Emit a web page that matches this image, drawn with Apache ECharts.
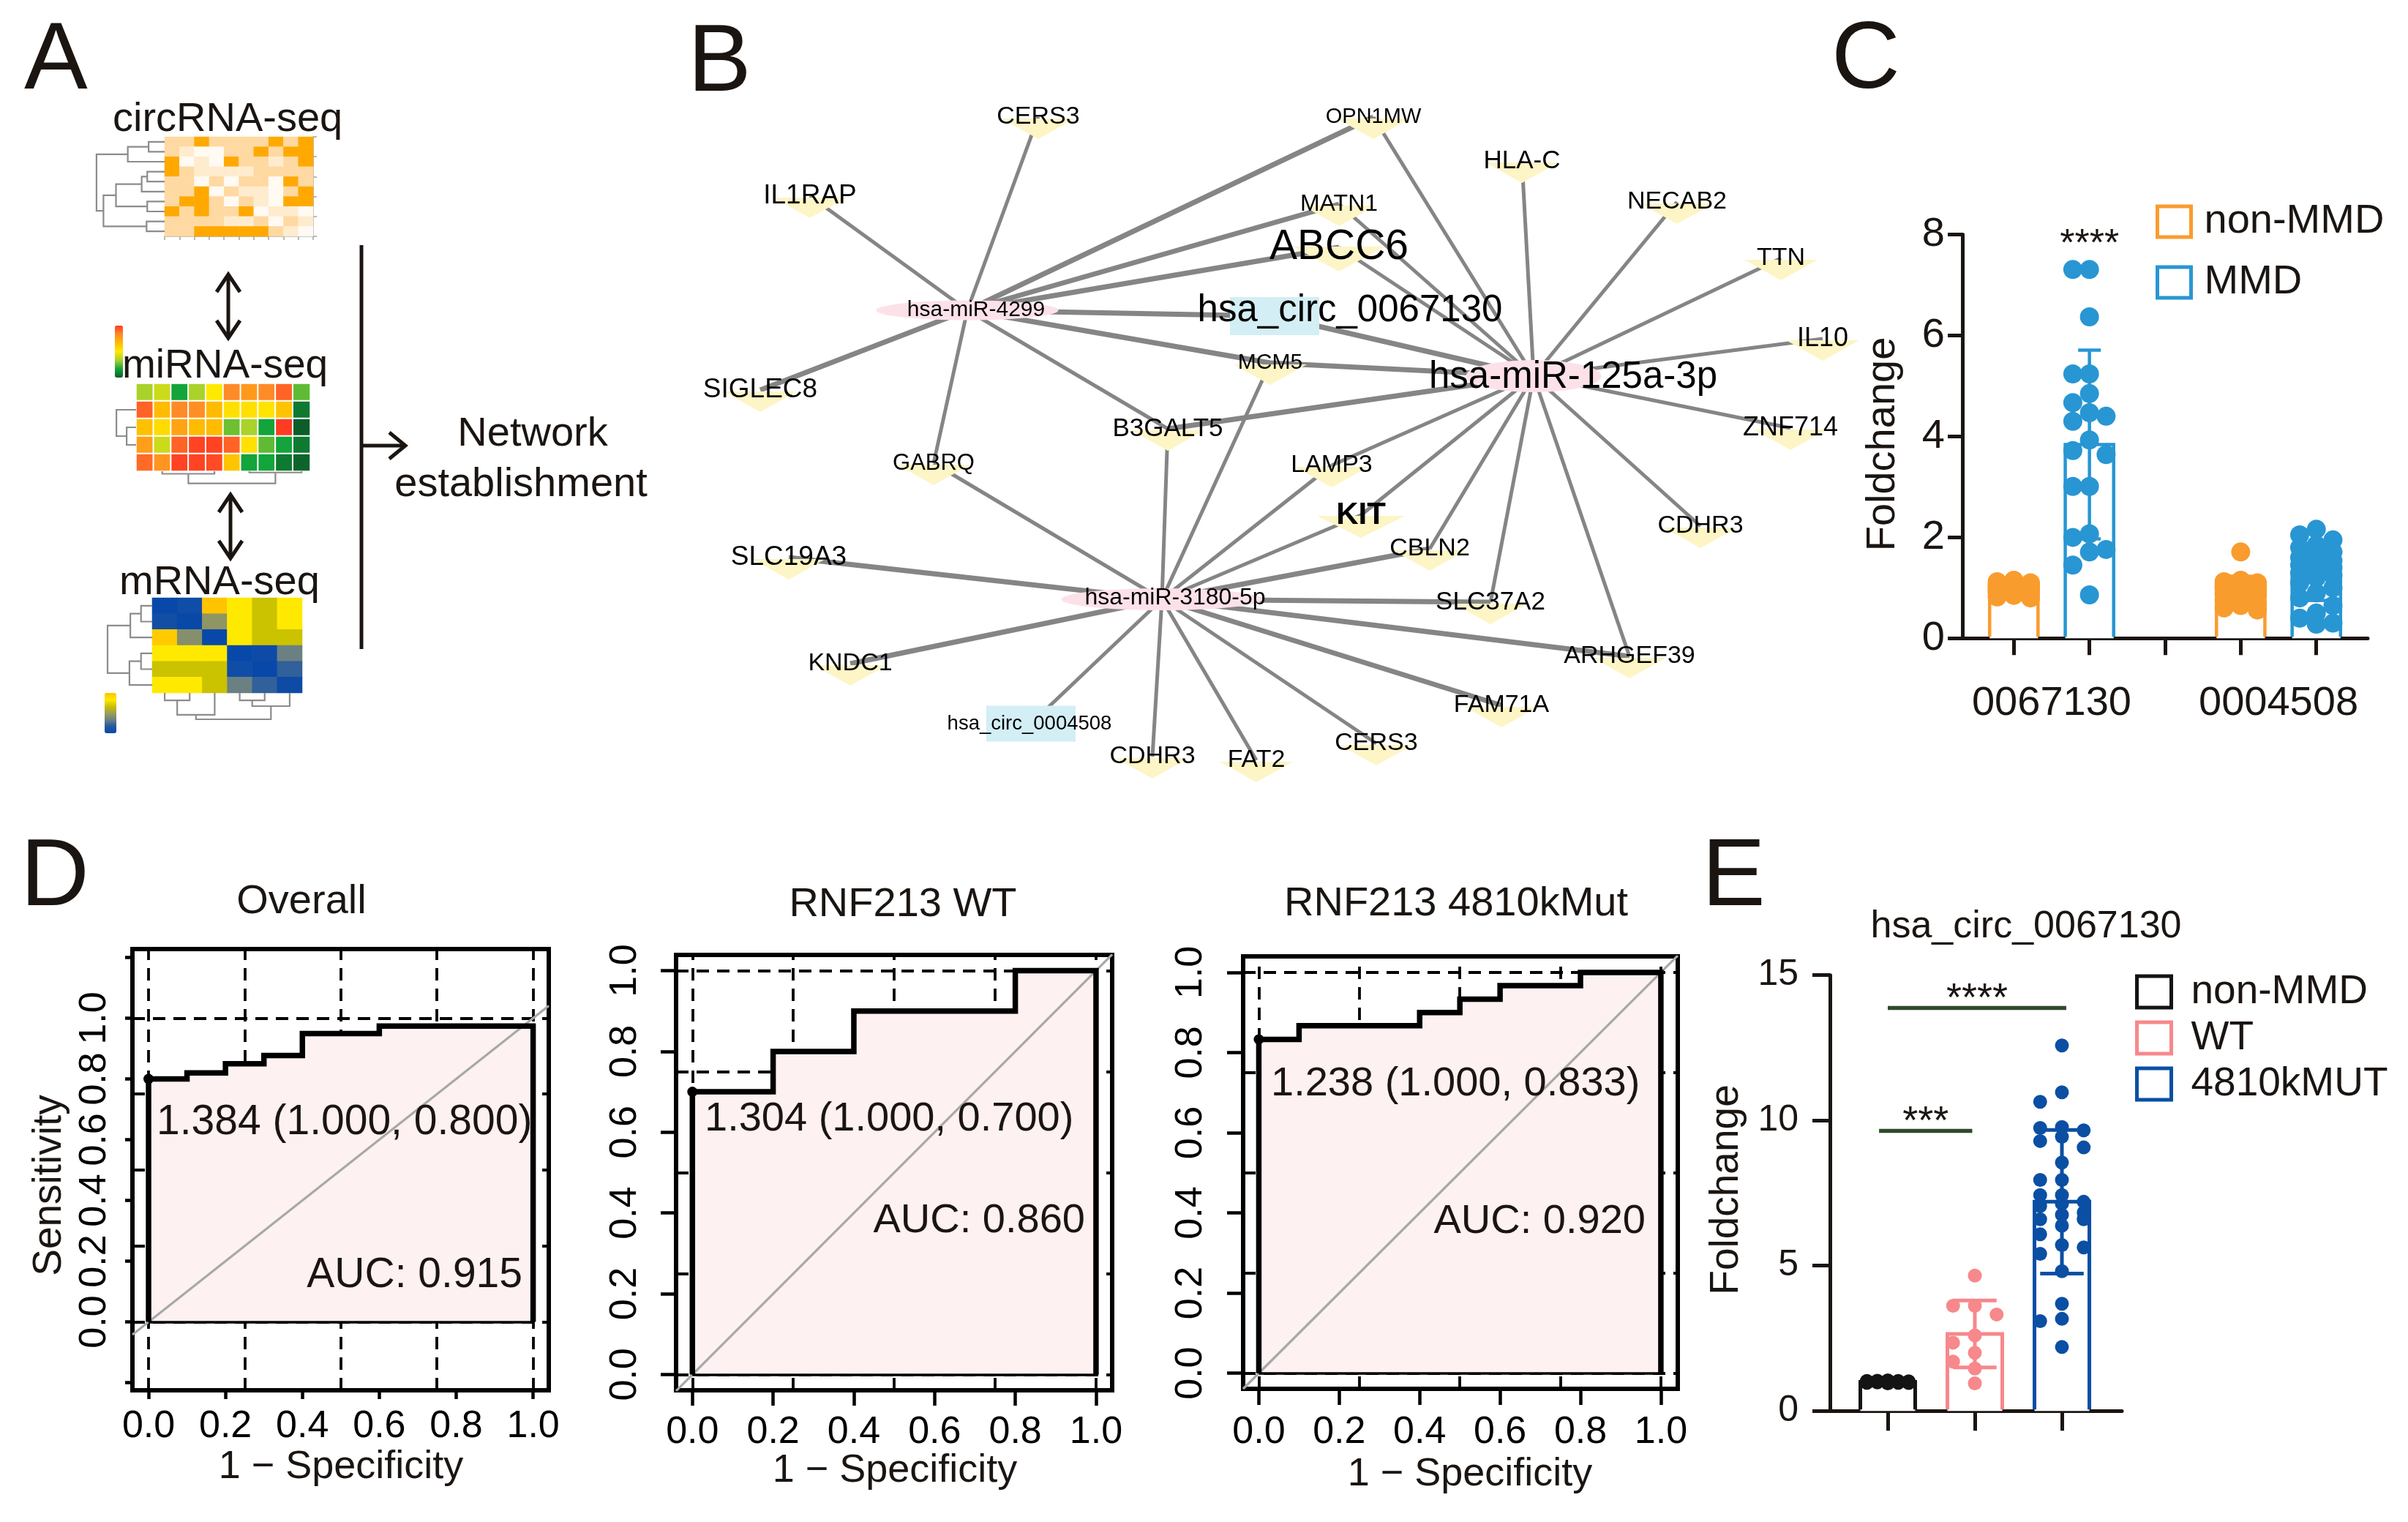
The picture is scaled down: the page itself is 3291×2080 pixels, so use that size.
<!DOCTYPE html>
<html>
<head>
<meta charset="utf-8">
<script src="https://cdn.jsdelivr.net/npm/echarts@6.0.0/dist/echarts.min.js"></script>
<style>
html,body{margin:0;padding:0;background:#ffffff;}
#chart{width:3291px;height:2080px;}
</style>
</head>
<body>
<div id="chart"></div>
<script>
const FONT = '"Liberation Sans", Arial, Helvetica, sans-serif';
const INK = '#1b1512';

/* ================= DATA ================= */
/* Panel A: heatmaps (rows top->bottom, cols left->right) */
const circRnaMatrix = [
  [2,2,4,2,2,2,2,4,2,4],
  [2,1,0,0,2,2,4,2,4,4],
  [4,0,1,0,4,2,2,1,2,4],
  [4,2,1,1,1,1,2,2,2,2],
  [2,2,0,2,0,2,2,0,4,2],
  [2,2,4,0,2,1,1,0,2,4],
  [2,4,4,2,0,2,1,0,4,4],
  [4,2,4,2,2,4,0,1,1,0],
  [2,2,2,2,1,1,2,0,2,1],
  [2,2,4,4,4,4,4,2,1,0]
];
/* hclust-style merges: negative = leaf (1-based), positive = earlier merge (1-based), then height */
const circRnaRowTree = [[-1,-2,0.23],[1,-3,0.53],[-4,-5,0.25],[3,-6,0.33],[-7,-8,0.25],[4,5,0.70],[-9,-10,0.26],[6,7,0.88],[2,8,0.98]];
const mirnaMatrix = [
  [-1.0,-0.6,-2.0,-1.0, 0.0, 2.0, 1.7, 2.0, 2.5,-1.5],
  [ 2.5, 1.0, 2.0, 1.9, 1.0, 0.2, 0.2, 0.1, 0.8,-2.6],
  [ 0.9, 0.3, 1.5, 1.0, 1.0,-1.4,-1.0,-2.0, 3.0,-3.0],
  [ 1.6,-0.6, 2.5, 2.9, 2.9, 2.5, 0.2,-1.5,-2.0,-2.6],
  [ 2.4, 1.8, 2.9, 2.9, 2.8, 0.8,-2.0,-2.0,-2.6,-2.9]
];
const mirnaRowTree = [[-3,-4,0.46],[-2,1,0.96]];
const mirnaColTree = [[-2,-5,0.16],[-7,-10,0.08],[1,2,0.76]];
const mrnaMatrix = [
  [-3.0,-2.7, 3.0, 2.0, 1.0, 2.0],
  [-2.6,-3.0,-0.3, 2.0, 1.0, 2.0],
  [ 2.8,-0.5,-3.0, 2.0, 1.0, 1.0],
  [ 2.0, 2.0, 2.0,-3.0,-2.8,-1.0],
  [ 1.0, 1.0, 1.0,-2.7,-3.0,-1.8],
  [ 2.0, 2.0, 1.0,-1.0,-1.8,-2.8]
];
const mrnaRowTree = [[-1,-2,0.25],[1,-3,0.49],[-4,-5,0.25],[3,-6,0.51],[2,4,1.0]];
const mrnaColTree = [[-1,-2,0.28],[1,-3,0.83],[-4,-5,0.28],[3,-6,0.50],[2,4,1.0]];

/* Panel B: network */
const netNodes = ['CERS3','OPN1MW','HLA-C','IL1RAP','MATN1','NECAB2','ABCC6','TTN','IL10','MCM5',
  'SIGLEC8','ZNF714','B3GALT5','GABRQ','LAMP3','KIT','CDHR3','CBLN2','SLC19A3','SLC37A2',
  'ARHGEF39','KNDC1','FAM71A','CDHR3','FAT2','CERS3',
  'hsa-miR-4299','hsa-miR-125a-3p','hsa-miR-3180-5p','hsa_circ_0067130','hsa_circ_0004508'];
const netNodeKind = ['mRNA','mRNA','mRNA','mRNA','mRNA','mRNA','mRNA','mRNA','mRNA','mRNA',
  'mRNA','mRNA','mRNA','mRNA','mRNA','mRNA','mRNA','mRNA','mRNA','mRNA',
  'mRNA','mRNA','mRNA','mRNA','mRNA','mRNA','miRNA','miRNA','miRNA','circRNA','circRNA'];
const netEdges = [
  [26,0],[26,3],[26,1],[26,4],[26,6],[26,29],[26,9],[26,10],[26,13],[26,12],
  [27,1],[27,2],[27,5],[27,7],[27,8],[27,11],[27,16],[27,20],[27,19],[27,17],[27,15],[27,14],[27,4],[27,6],[27,29],[27,9],[27,12],
  [28,13],[28,12],[28,9],[28,14],[28,15],[28,17],[28,19],[28,20],[28,22],[28,25],[28,24],[28,23],[28,30],[28,21],[28,18]
];
const netEdgeScore = [1,1,2,2,2,2,2,2,1,1, 1,1,1,1,1,1,1,1,1,1,1,1,1,1,2,2,2, 1,1,1,1,1,2,2,2,2,1,1,1,1,2,2];

/* Panel C */
const cCategories = ['0067130','0004508'];
const cGroups = ['non-MMD','MMD'];
const cNonMean = [1.00, 0.95];
const cNonSD   = [0.10, 0.28];
const cMmdMean = [3.84, 1.30];
const cMmdSD   = [1.87, 0.55];
const cNon0067130 = [1.15,1.12,1.10,1.08,1.06,1.05,1.03,1.02,1.00,1.00,0.99,0.98,0.96,0.95,0.93,0.92,0.90,0.88,0.85,0.82,0.80];
const cMmd0067130 = [7.31,7.31,6.37,5.24,5.24,4.85,4.67,4.47,4.40,4.30,3.93,3.72,3.64,3.01,3.01,2.07,2.00,1.76,1.71,1.45,0.86];
const cNon0004508 = [1.71,1.15,1.12,1.10,1.08,1.05,1.02,1.00,0.98,0.95,0.92,0.88,0.85,0.80,0.75,0.70,0.65,0.60,0.56];
const cMmd0004508 = [2.16,2.05,1.95,1.85,1.80,1.71,1.65,1.60,1.54,1.50,1.45,1.40,1.35,1.30,1.25,1.20,1.10,1.00,0.90,0.80,0.65,0.50,0.40,0.30,0.28];
const cSigText = ['****'];
const cSigY = [7.94];

/* Panel D: ROC */
const rocTitles = ['Overall','RNF213 WT','RNF213 4810kMut'];
const rocOverallFpr = [0,0.1,0.1,0.2,0.2,0.3,0.3,0.4,0.4,0.6,0.6,1.0];
const rocOverallTpr = [0.80,0.80,0.82,0.82,0.85,0.85,0.877,0.877,0.949,0.949,0.974,0.974];
const rocWtFpr = [0,0.2,0.2,0.4,0.4,0.8,0.8,1.0];
const rocWtTpr = [0.7,0.7,0.8,0.8,0.9,0.9,1.0,1.0];
const rocMutFpr = [0,0.1,0.1,0.4,0.4,0.5,0.5,0.6,0.6,0.8,0.8,1.0];
const rocMutTpr = [0.833,0.833,0.867,0.867,0.9,0.9,0.933,0.933,0.967,0.967,1.0,1.0];
const rocThreshold = [1.384, 1.304, 1.238];
const rocThrSpec = [1.000, 1.000, 1.000];
const rocThrSens = [0.800, 0.700, 0.833];
const rocAuc = [0.915, 0.860, 0.920];
const rocTickValues = [0,0.2,0.4,0.6,0.8,1.0];
const rocGridValues = [0,0.25,0.5,0.75,1.0];

/* Panel E */
const eGroups = ['non-MMD','WT','4810kMUT'];
const eMean = [1.00, 2.65, 7.20];
const eSD = [0.03, 1.15, 2.47];
const eNonMMD = [1.05,1.04,1.03,1.03,1.02,1.01,1.00,1.00,1.00,0.99,0.99,0.98,0.97,0.97,0.96,0.95];
const eWT = [4.66,3.62,3.62,3.32,2.60,2.35,2.00,1.70,1.46,0.95];
const eMut = [12.58,10.97,10.64,9.66,9.77,9.74,9.44,9.29,9.07,8.55,7.95,7.95,7.43,7.43,7.13,7.20,7.05,
  6.75,6.60,6.60,6.83,6.38,6.08,5.71,5.63,5.41,4.81,3.69,3.17,3.09,2.20];
const eSigFrom = [-0.10, 0.00];
const eSigTo = [0.97, 2.05];
const eSigY = [9.64, 13.87];
const eSigText = ['***','****'];

/* ================= LAYOUT / STYLE ================= */
const netLayout = {
  x: [1419,1877,2080,1107,1830,2292,1830,2434,2491,1736,1039,2447,1596,1276,1820,1860,2324,1954,1078,2037,2227,1162,2052,1575,1717,1881,1322,2096,1588,1742,1409],
  y: [160,160,220,268,279,276,338,353,463,496,533,585,586,633,636,704,719,750,762,823,897,907,964,1034,1039,1016,424,514,819,432,989]
};
const netLabelSize = {1:29,2:35,3:37,4:32,6:57,8:36,9:30,10:37,11:36,12:35,13:31,15:42,18:37,19:35,26:30,27:51,28:32,29:51,30:27.5};
const netLabelShift = {26:[12,0],27:[54,2],28:[18,-2],29:[103,-7],30:[-2,0]};
const netSymbolSize = {6:[125,34],15:[120,30],26:[249,27],27:[185,44],28:[275,30],29:[122,52],30:[122,49]};

const grids = [], xAxes = [], yAxes = [], series = [], visualMaps = [], graphics = [], legends = [];
function addGrid(g, x, y) {
  grids.push(Object.assign({outerBoundsMode:'none', containLabel:false}, g));
  const i = grids.length - 1;
  xAxes.push(Object.assign({gridIndex:i}, x));
  yAxes.push(Object.assign({gridIndex:i}, y));
  return i;
}
const hidden = o => Object.assign({type:'value', show:false, splitLine:{show:false}}, o);

/* ---------- Panel A ---------- */
function heatPanel(box, matrix, vm, axes, border) {
  const nr = matrix.length, nc = matrix[0].length;
  const axStyle = {show: axes, lineStyle:{color:'#a3a3a3', width:1.5}};
  const gi = addGrid({left:box.l, top:box.t, width:box.w, height:box.h},
    {type:'category', data:[...Array(nc).keys()].map(String), position:'bottom',
     axisLine:Object.assign({onZero:false}, axStyle), axisTick:{show:axes, length:5, lineStyle:{color:'#a3a3a3', width:1.5}},
     axisLabel:{show:false}, splitLine:{show:false}},
    {type:'category', data:[...Array(nr).keys()].map(String), inverse:true, position:'right',
     axisLine:Object.assign({onZero:false}, axStyle), axisTick:{show:axes, length:5, lineStyle:{color:'#a3a3a3', width:1.5}},
     axisLabel:{show:false}, splitLine:{show:false}});
  const data = [];
  matrix.forEach((row, r) => row.forEach((v, c) => data.push([c, r, v])));
  series.push({type:'heatmap', xAxisIndex:gi, yAxisIndex:gi, data, silent:true,
    itemStyle:{borderColor:'#ffffff', borderWidth:border}, emphasis:{disabled:true}});
  vm.seriesIndex = series.length - 1;
  visualMaps.push(vm);
}
function treeSegments(tree) {
  const pos = [], hh = [];
  const P = r => r < 0 ? -r - 1 : pos[r - 1];
  const H = r => r < 0 ? 0 : hh[r - 1];
  return tree.map(([a, b, h], k) => {
    const pa = P(a), pb = P(b), ha = H(a), hb = H(b);
    pos[k] = (pa + pb) / 2; hh[k] = h;
    return [pa, ha, pb, hb, h];
  });
}
function dendro(box, tree, n, orient) {
  let gi;
  if (orient === 'left') {
    gi = addGrid({left:box.l, top:box.t, width:box.w, height:box.h},
      hidden({min:0, max:1, inverse:true}), hidden({min:-0.5, max:n - 0.5, inverse:true}));
  } else {
    gi = addGrid({left:box.l, top:box.t, width:box.w, height:box.h},
      hidden({min:-0.5, max:n - 0.5}), hidden({min:0, max:1, inverse:true}));
  }
  series.push({type:'custom', xAxisIndex:gi, yAxisIndex:gi, data:treeSegments(tree), silent:true,
    renderItem(params, api) {
      const pa = api.value(0), ha = api.value(1), pb = api.value(2), hb = api.value(3), h = api.value(4);
      const pts = orient === 'left' ? [[ha,pa],[h,pa],[h,pb],[hb,pb]] : [[pa,ha],[pa,h],[pb,h],[pb,hb]];
      return {type:'polyline', shape:{points:pts.map(p => api.coord(p))},
        style:{stroke:'#8c8c8c', lineWidth:2.2, fill:null}};
    }});
}
heatPanel({l:225, t:187, w:203, h:136}, circRnaMatrix,
  {type:'continuous', min:0, max:4, show:false, inRange:{color:['#fffaf2','#ffecce','#ffd9a2','#ffc468','#ffa900']}}, true, 0);
dendro({l:130, t:187, w:95, h:136}, circRnaRowTree, 10, 'left');

heatPanel({l:186, t:524, w:238, h:120}, mirnaMatrix,
  {type:'continuous', min:-3, max:3, show:true, left:157, top:445, itemWidth:11, itemHeight:71, padding:0,
   calculable:false, hoverLink:false, text:null,
   inRange:{color:['#0b5d2a','#13a43b','#a9d22b','#ffe900','#ffbb00','#ff8a28','#ff3b22']}}, false, 2);
dendro({l:158, t:524, w:28, h:120}, mirnaRowTree, 5, 'left');
dendro({l:186, t:644, w:238, h:22}, mirnaColTree, 10, 'bottom');

heatPanel({l:208, t:817, w:205, h:130}, mrnaMatrix,
  {type:'continuous', min:-3, max:3, show:true, left:143, top:947, itemWidth:16, itemHeight:55, padding:0,
   calculable:false, hoverLink:false, text:null,
   inRange:{color:['#0848a8','#2358a0','#6b8083','#9e9e55','#cbc200','#ffe900','#ffc300']}}, false, 0);
dendro({l:147, t:817, w:61, h:130}, mrnaRowTree, 6, 'left');
dendro({l:208, t:947, w:205, h:36}, mrnaColTree, 6, 'bottom');

function txt(text, x, y, size, align, extra) {
  return Object.assign({type:'text', x, y, z:100, silent:true,
    style:{text, fontSize:size, fontFamily:FONT, fill:INK, align:align || 'left', verticalAlign:'middle'}}, extra || {});
}
function vArrow(x, y1, y2) {
  const s = {stroke:INK, lineWidth:5, fill:null};
  return [
    {type:'line', z:100, silent:true, shape:{x1:x, y1:y1 + 2, x2:x, y2:y2 - 2}, style:s},
    {type:'polyline', z:100, silent:true, shape:{points:[[x-16,y1+24],[x,y1],[x+16,y1+24]]}, style:s},
    {type:'polyline', z:100, silent:true, shape:{points:[[x-16,y2-24],[x,y2],[x+16,y2-24]]}, style:s}
  ];
}
graphics.push(txt('A', 33, 85, 130));
graphics.push(txt('circRNA-seq', 154, 164, 56));
graphics.push(txt('miRNA-seq', 167, 501, 55));
graphics.push(txt('mRNA-seq', 163, 797, 56));
graphics.push(...vArrow(312, 375, 462));
graphics.push(...vArrow(315, 676, 763));
graphics.push({type:'line', z:100, silent:true, shape:{x1:494, y1:335, x2:494, y2:887}, style:{stroke:INK, lineWidth:5}});
graphics.push({type:'line', z:100, silent:true, shape:{x1:494, y1:609, x2:552, y2:609}, style:{stroke:INK, lineWidth:5}});
graphics.push({type:'polyline', z:100, silent:true, shape:{points:[[532,591],[554,609],[532,627]]}, style:{stroke:INK, lineWidth:5, fill:null}});
graphics.push(txt('Network', 728, 594, 56, 'center'));
graphics.push(txt('establishment', 712, 663, 56, 'center'));

/* ---------- Panel B ---------- */
graphics.push(txt('B', 940, 88, 130));
const bX0 = 900, bY0 = 60;
const bGi = addGrid({left:bX0, top:bY0, width:1700, height:1040},
  hidden({min:0, max:1700}), hidden({min:0, max:1040, inverse:true}));
const kindStyle = {
  mRNA: {symbol:'path://M0,0 L100,0 L50,30 Z', size:[100,28], color:'#fdf5c6', offset:[0,16]},
  miRNA: {symbol:'circle', size:[200,30], color:'#fde1e9', offset:[0,0]},
  circRNA: {symbol:'rect', size:[122,50], color:'#d3eef5', offset:[0,0]}
};
const netData = netNodes.map((name, i) => {
  const k = kindStyle[netNodeKind[i]];
  const sh = netLabelShift[i] || [0,0];
  return {
    id: 'n' + i, name,
    value: [netLayout.x[i] - bX0, netLayout.y[i] - bY0],
    symbol: k.symbol, symbolSize: netSymbolSize[i] || k.size, symbolOffset: k.offset,
    itemStyle: {color: k.color},
    label: {show:true, position:'inside', color:'#000', fontFamily:FONT,
      fontSize: netLabelSize[i] || 34, fontWeight: i === 15 ? 'bold' : 'normal',
      offset: [sh[0] - k.offset[0], sh[1] - k.offset[1]], formatter: name}
  };
});
const netLinks = netEdges.map(([s, t], i) => ({source:s, target:t,
  lineStyle:{width: netEdgeScore[i] === 2 ? 7 : 5}}));
series.push({type:'graph', coordinateSystem:'cartesian2d', xAxisIndex:bGi, yAxisIndex:bGi,
  layout:'none', data:netData, links:netLinks, edgeSymbol:['none','none'], silent:true, z:3,
  lineStyle:{color:'#858585', width:5, opacity:1, curveness:0}, emphasis:{disabled:true}});

/* ---------- Swarm layout for dots ---------- */
function swarm(values, step, maxOff, win) {
  const order = values.map((v, i) => i).sort((a, b) => values[b] - values[a]);
  const placed = [], offs = new Array(values.length);
  const cand = [0, -1, 1, -0.5, 0.5, -1.5, 1.5, -2, 2];
  for (const i of order) {
    const v = values[i];
    const near = placed.filter(p => Math.abs(p.v - v) < win);
    let best = 0, bestScore = Infinity;
    for (const c of cand) {
      const o = c * step;
      if (Math.abs(o) > maxOff + 1e-9) continue;
      let score = 0;
      near.forEach(p => { const d = Math.abs(p.o - o); if (d < step * 0.95) score += (1 - d / step) * (win - Math.abs(p.v - v)); });
      if (score < bestScore - 1e-9) { bestScore = score; best = o; }
    }
    offs[i] = best; placed.push({v, o:best});
  }
  return values.map((v, i) => offs[i]);
}
function dots(values, center, step, maxOff, win) {
  const o = swarm(values, step, maxOff, win);
  return values.map((v, i) => [center + o[i], v]);
}
function barSeries(name, gi, items, color, halfW, lw) {
  return {type:'custom', name, xAxisIndex:gi, yAxisIndex:gi, data:items, z:2, silent:true,
    renderItem(params, api) {
      const x = api.value(0), m = api.value(1);
      const tl = api.coord([x - halfW, m]), br = api.coord([x + halfW, 0]);
      return {type:'group', children:[
        {type:'rect', shape:{x:tl[0], y:tl[1], width:br[0]-tl[0], height:br[1]-tl[1]}, style:{fill:'#ffffff'}},
        {type:'polyline', shape:{points:[[tl[0],br[1]-2],[tl[0],tl[1]],[br[0],tl[1]],[br[0],br[1]-2]]},
          style:{stroke:color, lineWidth:lw, fill:null, lineJoin:'miter'}}
      ]};
    }};
}
function errSeries(gi, items, color, capHalf, lw) {
  return {type:'custom', xAxisIndex:gi, yAxisIndex:gi, data:items, z:5, silent:true,
    renderItem(params, api) {
      const x = api.value(0), m = api.value(1), s = api.value(2);
      const top = api.coord([x, m + s]), bot = api.coord([x, Math.max(m - s, 0)]);
      const l = api.coord([x - capHalf, m])[0], r = api.coord([x + capHalf, m])[0];
      const st = {stroke:color, lineWidth:lw};
      return {type:'group', children:[
        {type:'line', shape:{x1:top[0], y1:top[1], x2:bot[0], y2:bot[1]}, style:st},
        {type:'line', shape:{x1:l, y1:top[1], x2:r, y2:top[1]}, style:st},
        {type:'line', shape:{x1:l, y1:bot[1], x2:r, y2:bot[1]}, style:st}
      ]};
    }};
}
function sigSeries(gi, items, texts, color, fs, lw) {
  return {type:'custom', xAxisIndex:gi, yAxisIndex:gi, data:items, z:6, silent:true,
    renderItem(params, api) {
      const x1 = api.value(0), x2 = api.value(1), y = api.value(2), ty = api.value(3);
      const a = api.coord([x1, y]), b = api.coord([x2, y]), t = api.coord([(x1 + x2) / 2, ty]);
      const ch = [{type:'text', x:t[0], y:t[1] + fs * 0.2,
        style:{text:texts[params.dataIndex], fontSize:fs, fontFamily:FONT, fill:INK, align:'center', verticalAlign:'middle'}}];
      if (x2 > x1) ch.push({type:'line', shape:{x1:a[0], y1:a[1], x2:b[0], y2:b[1]}, style:{stroke:color, lineWidth:lw}});
      return {type:'group', children:ch};
    }};
}

/* ---------- Panel C ---------- */
graphics.push(txt('C', 2503, 84, 130));
const C_OR = '#f99c2e', C_BL = '#2896d3';
const cGi = addGrid({left:2682, top:320.6, width:554, height:551.7},
  {type:'value', min:-0.68, max:4.68,
   axisLine:{show:true, onZero:false, lineStyle:{color:INK, width:5}}, splitLine:{show:false},
   axisTick:{show:true, customValues:[0,1,2,3,4], length:23, lineStyle:{color:INK, width:5}},
   axisLabel:{customValues:cCategories.map((c, k) => 3 * k + 0.5), formatter:v => cCategories[Math.round((v - 0.5) / 3)],
     fontSize:56, color:INK, margin:61}},
  {type:'value', min:0, max:8, interval:2,
   axisLine:{show:true, onZero:false, lineStyle:{color:INK, width:5}}, splitLine:{show:false},
   axisTick:{show:true, length:20, lineStyle:{color:INK, width:5}},
   axisLabel:{fontSize:56, color:INK, margin:24}});
const cW = 0.32, cStep = 0.22, cWin = 0.38;
series.push(barSeries('non-MMD', cGi, cNonMean.map((m, k) => [3 * k, m]), C_OR, cW, 4.5));
series.push(barSeries('MMD', cGi, cMmdMean.map((m, k) => [3 * k + 1, m]), C_BL, cW, 4.5));
series.push({type:'scatter', name:'non-MMD', xAxisIndex:cGi, yAxisIndex:cGi, symbolSize:26, silent:true, z:4,
  itemStyle:{color:C_OR, opacity:1},
  data:[].concat(dots(cNon0067130, 0, cStep, 0.3, cWin), dots(cNon0004508, 3, cStep, 0.3, cWin))});
series.push({type:'scatter', name:'MMD', xAxisIndex:cGi, yAxisIndex:cGi, symbolSize:26, silent:true, z:4,
  itemStyle:{color:C_BL, opacity:1},
  data:[].concat(dots(cMmd0067130, 1, cStep, 0.3, cWin), dots(cMmd0004508, 4, cStep, 0.3, cWin))});
series.push(errSeries(cGi, cNonMean.map((m, k) => [3 * k, m, cNonSD[k]]), C_OR, 0.15, 4.5));
series.push(errSeries(cGi, cMmdMean.map((m, k) => [3 * k + 1, m, cMmdSD[k]]), C_BL, 0.15, 4.5));
series.push(sigSeries(cGi, cSigY.map(y => [1, 1, y, y]), cSigText, INK, 52, 5));
graphics.push(txt('Foldchange', 2574, 607, 56, 'center', {rotation:Math.PI / 2}));
legends.push({left:2941, top:270, orient:'vertical', selectedMode:false, itemWidth:46, itemHeight:42, itemGap:27,
  icon:'rect', textStyle:{fontSize:56, color:INK, fontFamily:FONT, padding:[0,0,0,13]},
  data:[
    {name:'non-MMD', itemStyle:{color:'#ffffff', borderColor:C_OR, borderWidth:5}},
    {name:'MMD', itemStyle:{color:'#ffffff', borderColor:C_BL, borderWidth:5}}
  ]});

/* ---------- Panel D ---------- */
graphics.push(txt('D', 28, 1201, 130));
const rocPanels = [
  {l:181, t:1297, w:569, h:603, xr:[-0.0419,1.0407], yr:[-0.225,1.2274], yTicks:[-0.2,0,0.2,0.4,0.6,0.8,1.0,1.2],
   tickX:12, tickY:10, mx:24, my:25, fpr:rocOverallFpr, tpr:rocOverallTpr,
   titleX:412, titleY:1233, thrX:214, thrY:1534, aucX:714, aucY:1743, xtX:466, xtY:2005, fs:57},
  {l:924, t:1305, w:596, h:595, xr:[-0.0404,1.040], yr:[-0.039,1.039], yTicks:rocTickValues,
   tickX:21, tickY:21, mx:32, my:43, fpr:rocWtFpr, tpr:rocWtTpr,
   titleX:1234, titleY:1237, thrX:963, thrY:1530, aucX:1483, aucY:1669, xtX:1223, xtY:2010, fs:56},
  {l:1699, t:1307, w:594, h:591, xr:[-0.039,1.042], yr:[-0.039,1.040], yTicks:rocTickValues,
   tickX:22, tickY:22, mx:34, my:45, fpr:rocMutFpr, tpr:rocMutTpr,
   titleX:1990, titleY:1236, thrX:1737, thrY:1482, aucX:2249, aucY:1670, xtX:2009, xtY:2015, fs:56}
];
rocPanels.forEach((p, k) => {
  const gi = addGrid({left:p.l, top:p.t, width:p.w, height:p.h, show:true, borderColor:'#000', borderWidth:6,
      backgroundColor:'rgba(0,0,0,0)'},
    {type:'value', min:p.xr[0], max:p.xr[1], axisLine:{show:false, onZero:false}, splitLine:{show:false},
     axisTick:{show:true, customValues:rocTickValues, length:p.tickX, lineStyle:{color:'#000', width:4.5}},
     axisLabel:{customValues:rocTickValues, formatter:v => v.toFixed(1), fontSize:52, color:'#000', margin:p.mx}},
    {type:'value', min:p.yr[0], max:p.yr[1], axisLine:{show:false, onZero:false}, splitLine:{show:false},
     axisTick:{show:true, customValues:p.yTicks, length:p.tickY, lineStyle:{color:'#000', width:4.5}},
     axisLabel:{customValues:rocTickValues, formatter:v => v.toFixed(1), rotate:90, fontSize:52, color:'#000', margin:p.my}});
  const gl = [];
  rocGridValues.forEach(g => {
    gl.push({coords:[[g, p.yr[0]], [g, p.yr[1]]]});
    gl.push({coords:[[p.xr[0], g], [p.xr[1], g]]});
  });
  series.push({type:'lines', coordinateSystem:'cartesian2d', xAxisIndex:gi, yAxisIndex:gi, data:gl, silent:true, z:1,
    lineStyle:{color:'#000', width:3.8, type:[17,11], opacity:1}});
  const curve = [[0, 0]].concat(p.fpr.map((f, i) => [f, p.tpr[i]]));
  series.push({type:'line', xAxisIndex:gi, yAxisIndex:gi, data:curve, symbol:'none', silent:true, z:2,
    lineStyle:{opacity:0, width:0}, areaStyle:{color:'#fdf1f1', opacity:1, origin:'auto'}});
  series.push({type:'lines', coordinateSystem:'cartesian2d', xAxisIndex:gi, yAxisIndex:gi, silent:true, z:3,
    data:[{coords:[[p.xr[0], p.xr[0]], [p.xr[1], p.xr[1]]]}], lineStyle:{color:'#a8a8a8', width:3.2, opacity:1}});
  series.push({type:'lines', coordinateSystem:'cartesian2d', xAxisIndex:gi, yAxisIndex:gi, silent:true, z:4,
    data:[{coords:[[0, 0], [1, 0]]}], lineStyle:{color:'#000', width:3.5, opacity:1}});
  series.push({type:'line', xAxisIndex:gi, yAxisIndex:gi, data:curve.concat([[1, 0]]), symbol:'none', silent:true, z:5,
    lineStyle:{color:'#000', width:7.5, join:'miter', cap:'butt'}});
  series.push({type:'scatter', xAxisIndex:gi, yAxisIndex:gi, data:[[1 - rocThrSpec[k], rocThrSens[k]]], symbolSize:14,
    silent:true, z:6, itemStyle:{color:'#000', opacity:1}});
  graphics.push(txt(rocTitles[k], p.titleX, p.titleY, 56, 'center'));
  graphics.push(txt(rocThreshold[k].toFixed(3) + ' (' + rocThrSpec[k].toFixed(3) + ', ' + rocThrSens[k].toFixed(3) + ')',
    p.thrX, p.thrY, p.fs, 'left'));
  graphics.push(txt('AUC: ' + rocAuc[k].toFixed(3), p.aucX, p.aucY, p.fs, 'right'));
  graphics.push(txt('1 \u2212 Specificity', p.xtX, p.xtY, 54, 'center'));
});
graphics.push(txt('Sensitivity', 68, 1620, 55, 'center', {rotation:Math.PI / 2}));

/* ---------- Panel E ---------- */
graphics.push(txt('E', 2326, 1201, 130));
const E_BK = '#141414', E_PK = '#f7888b', E_BL = '#0a4fa3';
const eColors = [E_BK, E_PK, E_BL];
const eGi = addGrid({left:2501, top:1332.7, width:399, height:595.5},
  {type:'value', min:-0.664, max:2.689,
   axisLine:{show:true, onZero:false, lineStyle:{color:INK, width:5}}, splitLine:{show:false},
   axisTick:{show:true, customValues:[0,1,2], length:27, lineStyle:{color:INK, width:5}},
   axisLabel:{show:false}},
  {type:'value', min:0, max:15, interval:5,
   axisLine:{show:true, onZero:false, lineStyle:{color:INK, width:5}}, splitLine:{show:false},
   axisTick:{show:true, length:24, lineStyle:{color:INK, width:5}},
   axisLabel:{fontSize:50, color:INK, margin:43}});
const eVals = [eNonMMD, eWT, eMut];
eGroups.forEach((g, k) => {
  series.push(barSeries(g, eGi, [[k, eMean[k]]], eColors[k], 0.315, 5));
  series.push({type:'scatter', name:g, xAxisIndex:eGi, yAxisIndex:eGi, symbolSize:19, silent:true, z:4,
    itemStyle:{color:eColors[k], opacity:1}, data:dots(eVals[k], k, k === 0 ? 0.12 : 0.25, 0.3, 0.48)});
  series.push(errSeries(eGi, [[k, eMean[k], eSD[k]]], eColors[k], 0.25, 5));
});
series.push(sigSeries(eGi, eSigY.map((y, i) => [eSigFrom[i], eSigTo[i], y, y + 0.57]), eSigText, '#2f4a2b', 54, 5.5));
graphics.push(txt('hsa_circ_0067130', 2769, 1267, 52, 'center'));
graphics.push(txt('Foldchange', 2360, 1626, 55, 'center', {rotation:Math.PI / 2}));
legends.push({left:2913, top:1323, orient:'vertical', selectedMode:false, itemWidth:47, itemHeight:43, itemGap:8,
  icon:'rect', textStyle:{fontSize:55, color:INK, fontFamily:FONT, padding:[0,0,0,22]},
  data:eGroups.map((g, k) => ({name:g, itemStyle:{color:'#ffffff', borderColor:eColors[k], borderWidth:5}}))});

/* ================= RENDER ================= */
const chart = echarts.init(document.getElementById('chart'), null, {renderer:'canvas', width:3291, height:2080});
chart.setOption({
  animation:false,
  backgroundColor:'#ffffff',
  textStyle:{fontFamily:FONT},
  tooltip:{show:false},
  grid:grids, xAxis:xAxes, yAxis:yAxes,
  visualMap:visualMaps, legend:legends,
  series:series, graphic:{elements:graphics}
});
</script>
</body>
</html>
